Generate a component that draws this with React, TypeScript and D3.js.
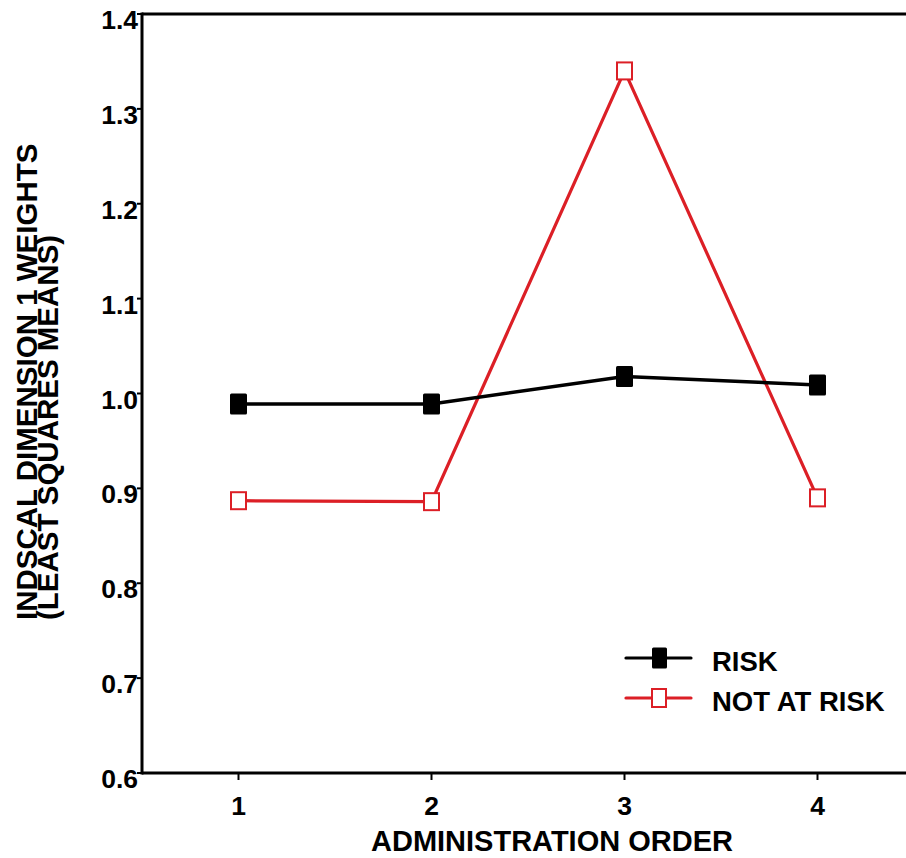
import React, { useEffect, useRef } from 'react';
import * as d3 from 'd3';

const orders = [1, 2, 3, 4];
const riskValues = [0.989, 0.989, 1.018, 1.009];
const notAtRiskValues = [0.887, 0.886, 1.34, 0.89];
const yTicks = [0.6, 0.7, 0.8, 0.9, 1.0, 1.1, 1.2, 1.3, 1.4];

const W = 906;
const H = 858;
const FONT = '"Liberation Sans", Arial, sans-serif';
const RED = '#dc1f26';

const App = () => {
  const svgRef = useRef<SVGSVGElement>(null);

  useEffect(() => {
    const svg = d3.select(svgRef.current);
    svg.selectAll('*').remove();

    const x = d3.scaleLinear().domain([0.5, 4.5]).range([142, 914]);
    const y = d3.scaleLinear().domain([0.6, 1.4]).range([773, 14]);

    // frame: left axis, top line, bottom axis
    svg.append('line').attr('x1', x(0.5)).attr('x2', x(0.5)).attr('y1', y(1.4) - 1.5).attr('y2', y(0.6) + 1.5)
      .attr('stroke', '#000').attr('stroke-width', 3);
    svg.append('line').attr('x1', x(0.5)).attr('x2', W).attr('y1', y(1.4)).attr('y2', y(1.4))
      .attr('stroke', '#000').attr('stroke-width', 3);
    svg.append('line').attr('x1', x(0.5)).attr('x2', W).attr('y1', y(0.6)).attr('y2', y(0.6))
      .attr('stroke', '#000').attr('stroke-width', 3);

    // y ticks
    yTicks.forEach(t => {
      svg.append('line').attr('x1', x(0.5) - 5).attr('x2', x(0.5)).attr('y1', y(t)).attr('y2', y(t))
        .attr('stroke', '#000').attr('stroke-width', 2);
      svg.append('text')
        .attr('x', 138).attr('y', y(t) + 15)
        .attr('text-anchor', 'end')
        .style('font-family', FONT).style('font-weight', 'bold').style('font-size', '26.5px')
        .text(t.toFixed(1));
    });

    // x ticks
    orders.forEach(o => {
      svg.append('line').attr('x1', x(o)).attr('x2', x(o)).attr('y1', y(0.6)).attr('y2', y(0.6) + 7)
        .attr('stroke', '#000').attr('stroke-width', 2);
      svg.append('text')
        .attr('x', x(o)).attr('y', 815)
        .attr('text-anchor', 'middle')
        .style('font-family', FONT).style('font-weight', 'bold').style('font-size', '26.5px')
        .text(o);
    });

    // axis titles
    svg.append('text')
      .attr('x', 552).attr('y', 851)
      .attr('text-anchor', 'middle')
      .style('font-family', FONT).style('font-weight', 'bold').style('font-size', '29px')
      .text('ADMINISTRATION ORDER');

    const yTitle = svg.append('g').attr('transform', 'translate(0,' + 620 + ') rotate(-90)');
    yTitle.append('text')
      .attr('x', 0).attr('y', 37)
      .attr('text-anchor', 'start')
      .style('font-family', FONT).style('font-weight', 'bold').style('font-size', '29.5px')
      .text('INDSCAL DIMENSION 1 WEIGHTS');
    yTitle.append('text')
      .attr('x', 0).attr('y', 58)
      .attr('text-anchor', 'start')
      .style('font-family', FONT).style('font-weight', 'bold').style('font-size', '29.5px')
      .text('(LEAST SQUARES MEANS)');

    const line = d3.line<number>().x((_, i) => x(orders[i])).y(d => y(d));

    // series
    svg.append('path').attr('d', line(notAtRiskValues)).attr('fill', 'none')
      .attr('stroke', RED).attr('stroke-width', 3.2).attr('stroke-linejoin', 'miter');
    svg.append('path').attr('d', line(riskValues)).attr('fill', 'none')
      .attr('stroke', '#000').attr('stroke-width', 3.5);

    riskValues.forEach((v, i) => {
      svg.append('rect').attr('x', x(orders[i]) - 8.5).attr('y', y(v) - 10.5).attr('width', 17).attr('height', 21)
        .attr('rx', 1.5).attr('fill', '#000');
    });
    notAtRiskValues.forEach((v, i) => {
      svg.append('rect').attr('x', x(orders[i]) - 7.5).attr('y', y(v) - 8.5).attr('width', 15).attr('height', 17)
        .attr('fill', '#fff').attr('stroke', RED).attr('stroke-width', 2);
    });

    // legend
    const legend = [
      { label: 'RISK', color: '#000', filled: true, yy: 658 },
      { label: 'NOT AT RISK', color: RED, filled: false, yy: 698 },
    ];
    legend.forEach(l => {
      svg.append('line').attr('x1', 626).attr('x2', 691).attr('y1', l.yy).attr('y2', l.yy)
        .attr('stroke', l.color).attr('stroke-width', 3.2).attr('stroke-linecap', 'round');
      if (l.filled) {
        svg.append('rect').attr('x', 652).attr('y', l.yy - 10.5).attr('width', 15).attr('height', 21)
          .attr('rx', 1.5).attr('fill', '#000');
      } else {
        svg.append('rect').attr('x', 652).attr('y', l.yy - 9).attr('width', 14).attr('height', 18)
          .attr('fill', '#fff').attr('stroke', RED).attr('stroke-width', 2);
      }
      svg.append('text')
        .attr('x', 712).attr('y', l.yy + 13)
        .style('font-family', FONT).style('font-weight', 'bold').style('font-size', '27.5px')
        .text(l.label);
    });
  }, []);

  return (
    <svg ref={svgRef} width={W} height={H} style={{ position: 'absolute', left: 0, top: 0, background: '#fff' }} />
  );
};

export default App;
